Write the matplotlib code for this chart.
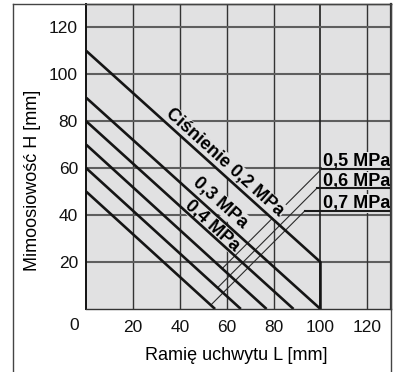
import numpy as np
import matplotlib.pyplot as plt
from matplotlib.lines import Line2D

# pressure curves: arm length L [mm] vs eccentricity H [mm]
pressures = ['0,2', '0,3', '0,4', '0,5', '0,6', '0,7']
arm_L = [[0, 100, 100], [0, 100], [0, 88.5], [0, 77], [0, 66], [0, 55]]
ecc_H = [[110, 20, 0], [90, 0], [80, 0], [70, 0], [60, 0], [50, 0]]

ticks = [20, 40, 60, 80, 100, 120]

# right-hand labels (0,5 / 0,6 / 0,7 MPa) with leader lines
side_labels = ['0,5 MPa', '0,6 MPa', '0,7 MPa']
side_idx = [3, 4, 5]
side_text_y = [61.1, 52.6, 43.2]
side_line_y = [59.7, 51.4, 41.9]
side_line_x = [100.5, 98.4, 93.4]

bg = '#e1e1e2'
plt.rcParams['font.family'] = ['Liberation Sans', 'DejaVu Sans']

fig = plt.figure(figsize=(4.02, 3.72), dpi=100)
ax = fig.add_axes([86.3 / 402, 63 / 372, 304.4 / 402, 305 / 372])
ax.set_facecolor(bg)
ax.set_xlim(0, 130)
ax.set_ylim(0, 130)
ax.set_xticks(ticks)
ax.set_yticks(ticks)
ax.tick_params(length=0, labelsize=12.5, colors='#111111')
ax.tick_params(axis='x', pad=8)
ax.tick_params(axis='y', pad=6)

# grid
for t in ticks:
    if t == 100:
        ax.axvline(t, color='#1e1e1e', lw=1.2, zorder=1)
    else:
        ax.axvline(t, color='#333333', lw=1.0, zorder=1)
    ax.axhline(t, color='#5e5e5e', lw=1.5, zorder=1)

for name, s in ax.spines.items():
    s.set_color('#333333')
    s.set_linewidth(1.0)
    s.set_zorder(10)
ax.spines['left'].set_color('#111111')
ax.spines['left'].set_linewidth(1.4)
ax.spines['right'].set_linewidth(1.6)

# pressure lines
for L, H in zip(arm_L, ecc_H):
    ax.plot(L, H, color='#151515', lw=1.9, solid_capstyle='butt', zorder=5)

box = dict(boxstyle='square,pad=0.05', fc=bg, ec='none')
fs_b = 13
ax.text(59.2, 62.4, 'Ciśnienie ' + pressures[0] + ' MPa', rotation=-42,
        rotation_mode='anchor', ha='center', va='center', fontsize=fs_b,
        fontweight='bold', bbox=box, zorder=4)
ax.text(57.1, 45.4, pressures[1] + ' MPa', rotation=-42, rotation_mode='anchor',
        ha='center', va='center', fontsize=fs_b, fontweight='bold', bbox=box, zorder=4)
ax.text(53.9, 35.5, pressures[2] + ' MPa', rotation=-42, rotation_mode='anchor',
        ha='center', va='center', fontsize=fs_b, fontweight='bold', bbox=box, zorder=4)

for lab, i, ty, ly, lx in zip(side_labels, side_idx, side_text_y, side_line_y, side_line_x):
    # leader at 45 deg down to the pressure line
    L0, H0 = arm_L[i][0], ecc_H[i][0]
    slope = (ecc_H[i][1] - H0) / (arm_L[i][1] - L0)
    xe = (H0 - ly + lx) / (1 - slope)
    ye = H0 + slope * xe
    ax.plot([lx, xe], [ly, ye], color='#2a2a2a', lw=0.8, zorder=2)
    ax.plot([lx, 130], [ly, ly], color='#1a1a1a', lw=1.5, zorder=6)
    ax.text(101.0, ty, lab, ha='left', va='baseline', fontsize=fs_b,
            fontweight='bold', bbox=box, zorder=4)

ax.annotate('0', xy=(0, 0), xytext=(-5.5, -12), textcoords='offset points',
            ha='right', va='center', fontsize=12.5, color='#111111')

fig.text(236 / 402, 1 - 356 / 372, 'Ramię uchwytu L [mm]', ha='center',
         va='center', fontsize=13)
fig.text(33 / 402, 1 - 180.5 / 372, 'Mimoosiowość H [mm]', ha='center',
         va='center', rotation=90, fontsize=13)

# outer frame
fx0, fx1, fy = 13.3 / 402, 390.7 / 402, 368 / 372
for xs, ys in [([fx0, fx0], [0, fy]), ([fx0, fx1], [fy, fy]), ([fx1, fx1], [0, fy])]:
    fig.add_artist(Line2D(xs, ys, transform=fig.transFigure, color='#444444', lw=1.0))

fig.savefig('out.png', dpi=100)
